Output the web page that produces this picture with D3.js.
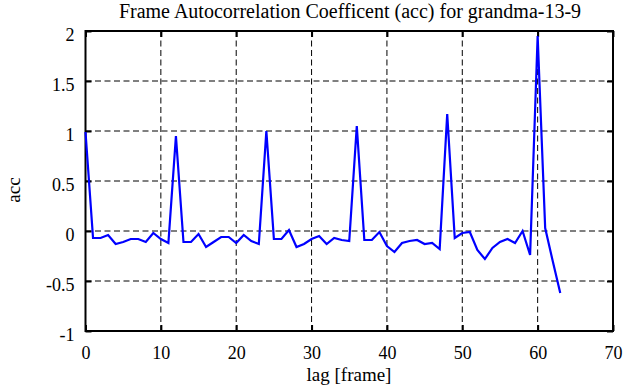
<!DOCTYPE html>
<html lang="en">
<head>
  <meta charset="UTF-8">
  <title>Frame Autocorrelation Coefficent (acc) for grandma-13-9</title>
  <script src="https://d3js.org/d3.v7.min.js"></script>
  <style>
    body, html { margin: 0; padding: 0; background: #fff; }
    svg { display: block; }
    svg text { font-family: "Liberation Serif", "Times New Roman", serif !important; fill: #000; }
  </style>
</head>
<body>
  <svg width="635" height="387"></svg>
  <script>
    // acc values for lag 0..63
    const lags = d3.range(0, 64);
    const acc = [
      0.99, -0.07, -0.07, -0.04, -0.13, -0.11, -0.08, -0.08, -0.11, -0.02,
      -0.08, -0.12, 0.95, -0.11, -0.11, -0.03, -0.16, -0.11, -0.06, -0.06,
      -0.12, -0.04, -0.10, -0.13, 1.00, -0.08, -0.08, 0.01, -0.16, -0.13,
      -0.08, -0.05, -0.13, -0.07, -0.09, -0.10, 1.05, -0.09, -0.09, -0.01,
      -0.15, -0.21, -0.12, -0.10, -0.09, -0.13, -0.12, -0.18, 1.17, -0.07,
      -0.02, -0.01, -0.19, -0.28, -0.17, -0.11, -0.08, -0.12, 0.00, -0.24,
      1.95, 0.03, -0.30, -0.62
    ];
    const xTicks = [0, 10, 20, 30, 40, 50, 60, 70];
    const yTicks = [-1, -0.5, 0, 0.5, 1, 1.5, 2];

    const svg = d3.select("svg"),
          margin = {top: 31, right: 22, bottom: 56, left: 85.5},
          width = 635 - margin.left - margin.right,
          height = 387 - margin.top - margin.bottom;

    const g = svg.append("g").attr("transform", `translate(${margin.left},${margin.top})`);

    const x = d3.scaleLinear().domain([0, 70]).range([0, width]);
    const y = d3.scaleLinear().domain([-1, 2]).range([height, 0]);

    // dashed grid
    g.selectAll(".gx").data(xTicks.slice(1, -1)).enter().append("line")
      .attr("x1", d => x(d)).attr("x2", d => x(d))
      .attr("y1", 0).attr("y2", height)
      .attr("stroke", "#000").attr("stroke-width", 1).attr("stroke-dasharray", "6,3.5");
    g.selectAll(".gy").data(yTicks.slice(1, -1)).enter().append("line")
      .attr("x1", 0).attr("x2", width)
      .attr("y1", d => y(d)).attr("y2", d => y(d))
      .attr("stroke", "#000").attr("stroke-width", 1).attr("stroke-dasharray", "6,3.5");

    // axes with inward ticks, plain hyphen for negatives
    const fmt = d => String(d);
    const axB = g.append("g").attr("transform", `translate(0,${height})`)
      .call(d3.axisBottom(x).tickValues(xTicks).tickSize(-6).tickPadding(15).tickFormat(fmt));
    const axT = g.append("g")
      .call(d3.axisTop(x).tickValues(xTicks).tickSize(-6).tickFormat(""));
    const axL = g.append("g")
      .call(d3.axisLeft(y).tickValues(yTicks).tickSize(-6).tickPadding(11).tickFormat(fmt));
    const axR = g.append("g").attr("transform", `translate(${width},0)`)
      .call(d3.axisRight(y).tickValues(yTicks).tickSize(-6).tickFormat(""));

    [axB, axT, axL, axR].forEach(a => {
      a.attr("font-family", "'Liberation Serif', serif").attr("font-size", 18);
      a.select(".domain").remove();
      a.selectAll("line").attr("stroke", "#000").attr("stroke-width", 2);
      a.selectAll("text").attr("fill", "#000");
    });
    axL.selectAll("text").attr("dy", "0.62em").attr("y", -2);

    g.append("rect").attr("width", width).attr("height", height)
      .attr("fill", "none").attr("stroke", "#000").attr("stroke-width", 2);

    // series
    const line = d3.line().x((d, i) => x(lags[i])).y(d => y(d));
    g.append("path").datum(acc)
      .attr("d", line)
      .attr("fill", "none").attr("stroke", "#0000ff").attr("stroke-width", 2.2)
      .attr("stroke-linejoin", "miter");

    // labels
    svg.append("text").attr("x", 350).attr("y", 18).attr("text-anchor", "middle")
      .style("font-size", "20px").text("Frame Autocorrelation Coefficent (acc) for grandma-13-9");
    svg.append("text").attr("x", 349).attr("y", 381).attr("text-anchor", "middle")
      .style("font-size", "19px").text("lag [frame]");
    svg.append("text").attr("transform", "translate(20,190) rotate(-90)").attr("text-anchor", "middle")
      .style("font-size", "19px").text("acc");
  </script>
</body>
</html>
